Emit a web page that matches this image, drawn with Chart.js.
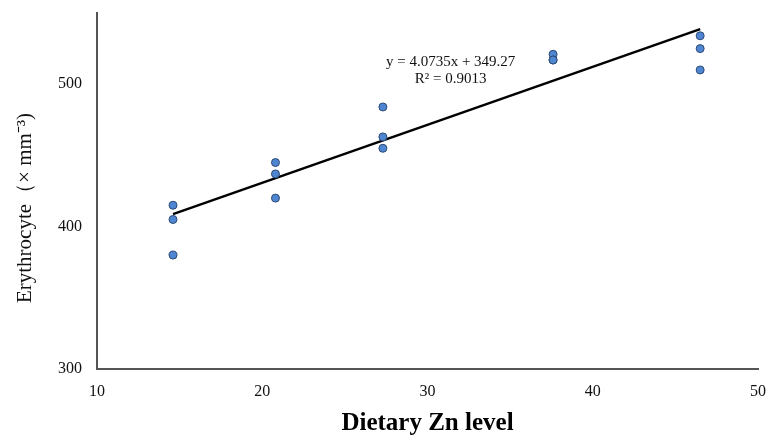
<!DOCTYPE html>
<html>
<head>
<meta charset="utf-8">
<script src="https://cdn.jsdelivr.net/npm/chart.js@4"></script>
<style>
  html, body { margin: 0; padding: 0; background: #fff; }
  #wrap { width: 771px; height: 435px; }
</style>
</head>
<body>
<div id="wrap"><canvas id="chart_erythrocyte"></canvas></div>
<script>
// scatter values (Zn level, erythrocyte count)
var znLevel = [14.6, 14.6, 14.6, 20.8, 20.8, 20.8, 27.3, 27.3, 27.3, 37.6, 37.6, 37.6, 46.5, 46.5, 46.5];
var erythrocyte = [415, 405, 380, 445, 437, 420, 484, 463, 455, 521, 517, 517, 534, 525, 510];

// linear trend from the equation printed on the chart
var trendSlope = 4.0735;
var trendIntercept = 349.27;
var trendRange = [14.6, 46.5];
var trendLabels = ['y = 4.0735x + 349.27', 'R\u00b2 = 0.9013'];

var xTicks = [10, 20, 30, 40, 50];
var yTicks = [300, 400, 500];

var points = znLevel.map(function (x, i) { return { x: x, y: erythrocyte[i] }; });
var trend = trendRange.map(function (x) { return { x: x, y: trendSlope * x + trendIntercept }; });

var serif = "'Liberation Serif', 'Times New Roman', serif";

var chart_erythrocyte = new Chart(document.getElementById('chart_erythrocyte'), {
    type: 'scatter',
    data: {
        datasets: [
            {
                label: 'Erythrocyte',
                data: points,
                pointRadius: 4,
                pointHoverRadius: 4,
                pointBackgroundColor: '#4f86d1',
                pointBorderColor: '#2d4a75',
                pointBorderWidth: 1,
                order: 1
            },
            {
                label: 'Linear trend',
                type: 'line',
                data: trend,
                borderColor: '#000',
                borderWidth: 2.5,
                pointRadius: 0,
                fill: false,
                order: 2
            }
        ]
    },
    options: {
        animation: false,
        responsive: true,
        maintainAspectRatio: false,
        layout: { padding: { top: 13, right: 13, left: 0, bottom: 0 } },
        plugins: {
            legend: { display: false },
            tooltip: { enabled: false }
        },
        scales: {
            x: {
                type: 'linear',
                min: 10,
                max: 50,
                afterBuildTicks: function (scale) {
                    scale.ticks = xTicks.map(function (v) { return { value: v }; });
                },
                afterFit: function (scale) {
                    scale.height = 66;
                    scale.paddingLeft = 0;
                    scale.paddingRight = 0;
                },
                grid: { display: false, drawTicks: false },
                border: { display: true, color: '#555', width: 2 },
                ticks: {
                    padding: 13,
                    color: '#111',
                    font: { family: serif, size: 16 }
                },
                title: {
                    display: true,
                    text: 'Dietary Zn level',
                    color: '#000',
                    font: { family: serif, size: 25, weight: 'bold', lineHeight: 0.95 },
                    padding: { top: 0, bottom: 0 }
                }
            },
            y: {
                type: 'linear',
                min: 300,
                max: 550,
                afterBuildTicks: function (scale) {
                    scale.ticks = yTicks.map(function (v) { return { value: v }; });
                },
                afterFit: function (scale) {
                    scale.width = 97;
                    scale.paddingTop = 0;
                    scale.paddingBottom = 0;
                },
                grid: { display: false, drawTicks: false },
                border: { display: true, color: '#555', width: 2 },
                ticks: {
                    padding: 15,
                    color: '#111',
                    font: { family: serif, size: 16 }
                },
                title: { display: false }
            }
        }
    },
    plugins: [{
        id: 'customText',
        afterDraw: function (chart) {
            var ctx = chart.ctx;
            var xs = chart.scales.x, ys = chart.scales.y;
            ctx.save();
            // y axis title
            ctx.fillStyle = '#111';
            ctx.font = '21px ' + serif;
            ctx.textAlign = 'center';
            ctx.textBaseline = 'middle';
            ctx.translate(25, (chart.chartArea.top + chart.chartArea.bottom) / 2 + 17);
            ctx.rotate(-Math.PI / 2);
            ctx.fillText('Erythrocyte\uff08\u00d7 mm\u207b\u00b3)', 0, 0);
            ctx.restore();

            // trendline label
            ctx.save();
            ctx.fillStyle = '#111';
            ctx.font = '15px ' + serif;
            ctx.textAlign = 'center';
            ctx.textBaseline = 'middle';
            var cx = xs.getPixelForValue(31.4);
            ctx.fillText(trendLabels[0], cx, ys.getPixelForValue(515.5));
            ctx.fillText(trendLabels[1], cx, ys.getPixelForValue(503.5));
            ctx.restore();
        }
    }, {
        id: 'whiteBg',
        beforeDraw: function (chart) {
            var ctx = chart.canvas.getContext('2d');
            ctx.save();
            ctx.globalCompositeOperation = 'destination-over';
            ctx.fillStyle = 'white';
            ctx.fillRect(0, 0, chart.canvas.width, chart.canvas.height);
            ctx.restore();
        }
    }]
});
</script>
</body>
</html>
